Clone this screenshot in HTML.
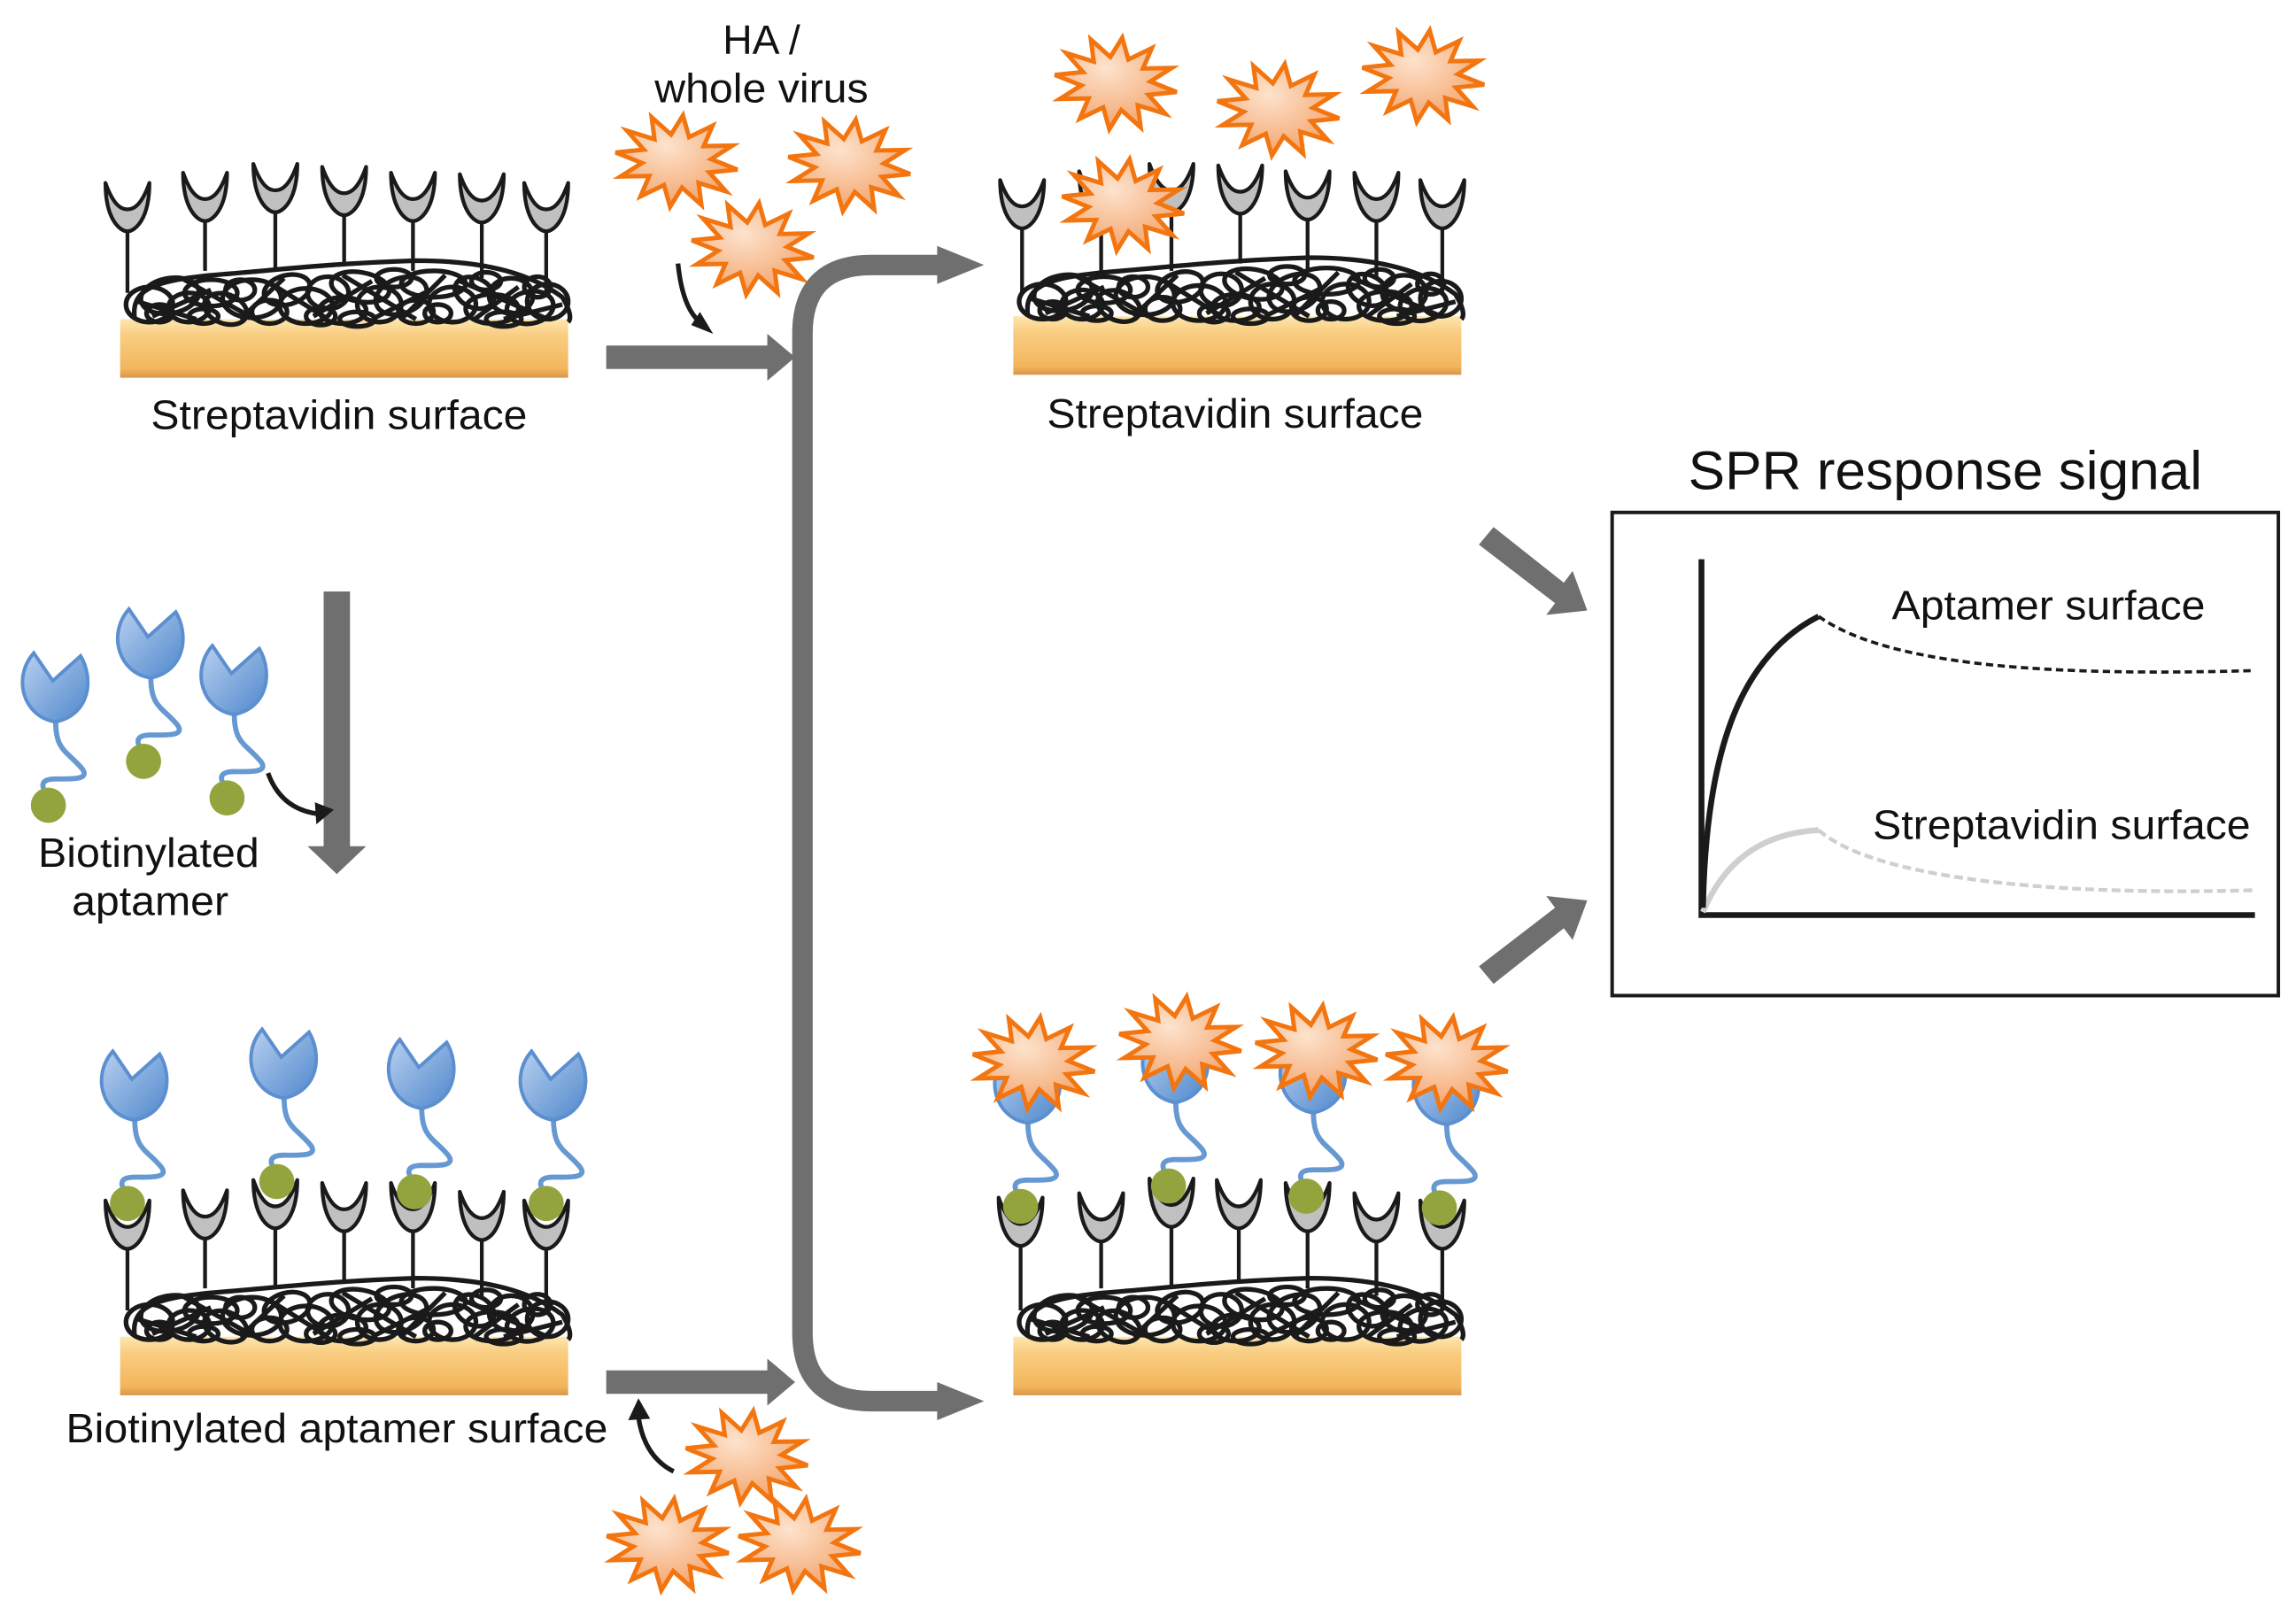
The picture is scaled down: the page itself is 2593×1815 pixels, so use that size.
<!DOCTYPE html>
<html><head><meta charset="utf-8"><style>
html,body{margin:0;padding:0;background:#fff;}
svg{display:block;}
text{font-family:"Liberation Sans",Arial,sans-serif;fill:#111;}
</style></head><body>
<svg width="2593" height="1815" viewBox="0 0 1568 1097.6" xmlns="http://www.w3.org/2000/svg">
<defs>
<linearGradient id="gold" x1="0" y1="0" x2="0" y2="1">
<stop offset="0" stop-color="#fde7b0"/><stop offset="0.25" stop-color="#f9cf84"/><stop offset="0.85" stop-color="#f3b55c"/><stop offset="1" stop-color="#d9954a"/>
</linearGradient>
<radialGradient id="starg" cx="0.4" cy="0.35" r="0.7">
<stop offset="0" stop-color="#fde3cd"/><stop offset="1" stop-color="#f3a066"/>
</radialGradient>
<linearGradient id="blue" x1="0" y1="0" x2="1" y2="1">
<stop offset="0" stop-color="#b8d0f0"/><stop offset="1" stop-color="#4f88cc"/>
</linearGradient>
<g id="star">
<path d="M42,0 L23.2,4.6 L36.4,15.8 L17,12.7 L21,27.3 L6.2,17.4 L0,31.5 L-6.2,17.4 L-21,27.3 L-17,12.7 L-36.4,15.8 L-23.2,4.6 L-42,0 L-23.2,-4.6 L-36.4,-15.8 L-17,-12.7 L-21,-27.3 L-6.2,-17.4 L0,-31.5 L6.2,-17.4 L21,-27.3 L17,-12.7 L36.4,-15.8 L23.2,-4.6 Z" fill="url(#starg)" stroke="#f27510" stroke-width="3" stroke-linejoin="miter" transform="rotate(8)"/>
</g>
<g id="cup">
<path d="M-15,0 C-15,25 -5,33 0,33 C5,33 15,25 15,0 C10,14 5,18 0,18 C-5,18 -10,14 -15,0 Z" fill="#c0c0c0" stroke="#1a1a1a" stroke-width="2.6" stroke-linejoin="round"/>
</g>
<g id="head">
<path d="M-15,-22 L-2,-3 L17,-20 C26,-5 24,20 0,25 C-22,22 -30,-5 -15,-22 Z" fill="url(#blue)" stroke="#5b8fcf" stroke-width="2.4" stroke-linejoin="miter"/>
</g>
<g id="tail">
<path d="M0,25 C0,45 8,45 18,57 C24,65 10,64 0,64 C-12,64 -10,70 -4,78" fill="none" stroke="#6698d2" stroke-width="3.5"/>
<circle cx="-5" cy="82" r="12" fill="#93a43f"/>
</g>
<g id="apt"><use href="#tail"/><use href="#head"/></g>
<g id="tangle" fill="none" stroke="#1a1a1a" stroke-width="3.2">
<path d="M8,40 C5,20 20,14 60,10 C110,6 140,2 200,0 C250,0 280,10 300,25 C306,35 306,40 304,42"/>
<ellipse cx="18" cy="30" rx="16" ry="12"/><ellipse cx="32" cy="24" rx="20" ry="12" transform="rotate(-10 32 24)"/>
<ellipse cx="45" cy="32" rx="14" ry="10"/><ellipse cx="60" cy="22" rx="18" ry="9"/>
<ellipse cx="70" cy="33" rx="15" ry="10" transform="rotate(20 70 33)"/><ellipse cx="88" cy="26" rx="20" ry="13"/>
<ellipse cx="100" cy="35" rx="12" ry="8"/><ellipse cx="112" cy="20" rx="16" ry="10" transform="rotate(-15 112 20)"/>
<ellipse cx="125" cy="31" rx="18" ry="12"/><ellipse cx="140" cy="22" rx="14" ry="11"/>
<ellipse cx="150" cy="34" rx="16" ry="9"/><ellipse cx="162" cy="18" rx="20" ry="10" transform="rotate(10 162 18)"/>
<ellipse cx="175" cy="30" rx="15" ry="12"/><ellipse cx="190" cy="24" rx="18" ry="12" transform="rotate(-20 190 24)"/>
<ellipse cx="200" cy="35" rx="12" ry="8"/><ellipse cx="212" cy="16" rx="22" ry="9"/>
<ellipse cx="225" cy="30" rx="16" ry="12"/><ellipse cx="240" cy="22" rx="14" ry="10" transform="rotate(25 240 22)"/>
<ellipse cx="252" cy="33" rx="18" ry="10"/><ellipse cx="265" cy="24" rx="15" ry="12"/>
<ellipse cx="278" cy="32" rx="16" ry="11" transform="rotate(-10 278 32)"/><ellipse cx="290" cy="28" rx="14" ry="12"/>
<ellipse cx="25" cy="36" rx="9" ry="6"/><ellipse cx="80" cy="20" rx="10" ry="7"/><ellipse cx="135" cy="38" rx="10" ry="6"/><ellipse cx="185" cy="12" rx="12" ry="6"/><ellipse cx="215" cy="36" rx="9" ry="6"/><ellipse cx="248" cy="14" rx="10" ry="6"/><ellipse cx="283" cy="18" rx="9" ry="7"/>
<path d="M20,38 L60,20 M80,40 L110,12 M130,38 L170,14 M190,40 L220,10 M240,40 L270,18 M40,12 L90,40 M150,10 L200,40 M230,14 L290,40 M10,28 L50,40 M100,15 L140,40 M170,40 L210,20 M260,40 L300,30"/>
<ellipse cx="55" cy="38" rx="10" ry="5"/><ellipse cx="160" cy="40" rx="12" ry="5"/><ellipse cx="260" cy="40" rx="12" ry="5"/>
</g>
<g id="surf">
<rect x="0" y="0" width="306" height="40" fill="url(#gold)"/>
<use href="#tangle" x="2" y="-40"/>
</g>
</defs>

<!-- TL surface -->
<g stroke="#1a1a1a" stroke-width="2.6">
<line x1="87" y1="155" x2="87" y2="200"/><line x1="140" y1="148" x2="140" y2="185"/><line x1="188" y1="142" x2="188" y2="185"/><line x1="235" y1="145" x2="235" y2="180"/><line x1="282" y1="148" x2="282" y2="185"/><line x1="329" y1="148" x2="329" y2="190"/><line x1="373" y1="157" x2="373" y2="200"/>
</g>
<use href="#surf" x="82" y="218"/>
<use href="#cup" x="87" y="125"/><use href="#cup" x="140" y="118"/><use href="#cup" x="188" y="112"/><use href="#cup" x="235" y="114"/><use href="#cup" x="282" y="118"/><use href="#cup" x="329" y="119"/><use href="#cup" x="373" y="125"/>
<text x="103" y="293" font-size="28" textLength="257" lengthAdjust="spacingAndGlyphs">Streptavidin surface</text>

<!-- TR surface -->
<g stroke="#1a1a1a" stroke-width="2.6">
<line x1="698" y1="155" x2="698" y2="200"/><line x1="752" y1="148" x2="752" y2="185"/><line x1="800" y1="142" x2="800" y2="185"/><line x1="847" y1="145" x2="847" y2="180"/><line x1="893" y1="148" x2="893" y2="185"/><line x1="940" y1="148" x2="940" y2="190"/><line x1="985" y1="157" x2="985" y2="200"/>
</g>
<use href="#surf" x="692" y="216"/>
<use href="#cup" x="698" y="123"/><use href="#cup" x="752" y="117"/><use href="#cup" x="800" y="112"/><use href="#cup" x="847" y="113"/><use href="#cup" x="893" y="117"/><use href="#cup" x="940" y="118"/><use href="#cup" x="985" y="123"/>
<text x="715" y="292" font-size="28" textLength="257" lengthAdjust="spacingAndGlyphs">Streptavidin surface</text>
<use href="#star" transform="translate(762,57)"/><use href="#star" transform="translate(873,75)"/><use href="#star" transform="translate(972,52)"/><use href="#star" transform="translate(767,140)"/>

<!-- free stars -->
<use href="#star" transform="translate(462,110)"/><use href="#star" transform="translate(580,113)"/><use href="#star" transform="translate(514,170)"/>
<use href="#star" transform="translate(510,995)"/><use href="#star" transform="translate(456,1055)"/><use href="#star" transform="translate(546,1055)"/>
<text x="520" y="37" font-size="28" text-anchor="middle">HA /</text>
<text x="447" y="70" font-size="28" textLength="146" lengthAdjust="spacingAndGlyphs">whole virus</text>

<!-- free aptamers -->
<use href="#apt" transform="translate(38,468)"/><use href="#apt" transform="translate(103,438)"/><use href="#apt" transform="translate(160,463)"/>
<text x="26" y="592" font-size="28" textLength="151" lengthAdjust="spacingAndGlyphs">Biotinylated</text>
<text x="49" y="625" font-size="28" textLength="107" lengthAdjust="spacingAndGlyphs">aptamer</text>

<!-- arrows -->
<g fill="#6f6f6f">
<rect x="221" y="404" width="18" height="176"/><polygon points="210,578 250,578 230,597"/>
<rect x="414" y="236" width="112" height="16"/><polygon points="524,228 543,244 524,260"/>
<rect x="414" y="936" width="112" height="16"/><polygon points="524,928 543,944 524,960"/>
<polygon points="640,168 672,181 640,194"/><polygon points="640,944 672,957 640,970"/>
<polygon points="1020,360 1010,372 1062,412 1056,420 1084,417 1074,390 1068,398"/>
<polygon points="1020,672 1010,660 1062,620 1056,612 1084,615 1074,642 1068,634"/>
</g>
<path d="M642,181 L595,181 Q548,181 548,228 L548,910 Q548,957 595,957 L642,957" fill="none" stroke="#6f6f6f" stroke-width="14"/>

<!-- small black curved arrows -->
<g fill="none" stroke="#1a1a1a" stroke-width="3.2">
<path d="M183,528 Q192,553 218,556"/><path d="M463,180 Q466,210 478,220"/><path d="M460,1005 Q440,995 436,968"/>
</g>
<g fill="#1a1a1a">
<polygon points="215,548 228,553 216,563"/><polygon points="472,222 487,228 478,213"/><polygon points="429,970 436,955 444,969"/>
</g>

<!-- BL surface -->
<g stroke="#1a1a1a" stroke-width="2.6">
<line x1="87" y1="850" x2="87" y2="895"/><line x1="140" y1="845" x2="140" y2="880"/><line x1="188" y1="838" x2="188" y2="880"/><line x1="235" y1="840" x2="235" y2="875"/><line x1="282" y1="840" x2="282" y2="880"/><line x1="329" y1="845" x2="329" y2="885"/><line x1="373" y1="852" x2="373" y2="895"/>
</g>
<use href="#surf" x="82" y="913"/>
<use href="#cup" x="87" y="820"/><use href="#cup" x="140" y="813"/><use href="#cup" x="188" y="806"/><use href="#cup" x="235" y="808"/><use href="#cup" x="282" y="808"/><use href="#cup" x="329" y="814"/><use href="#cup" x="373" y="820"/>
<use href="#apt" transform="translate(92,740)"/><use href="#apt" transform="translate(194,725)"/><use href="#apt" transform="translate(288,732)"/><use href="#apt" transform="translate(378,740)"/>
<text x="45" y="985" font-size="28" textLength="370" lengthAdjust="spacingAndGlyphs">Biotinylated aptamer surface</text>

<!-- BR surface -->
<g stroke="#1a1a1a" stroke-width="2.6">
<line x1="697" y1="850" x2="697" y2="895"/><line x1="752" y1="845" x2="752" y2="880"/><line x1="800" y1="838" x2="800" y2="880"/><line x1="846" y1="840" x2="846" y2="875"/><line x1="893" y1="842" x2="893" y2="880"/><line x1="940" y1="845" x2="940" y2="885"/><line x1="985" y1="850" x2="985" y2="895"/>
</g>
<use href="#surf" x="692" y="913"/>
<use href="#cup" x="697" y="818"/><use href="#cup" x="752" y="815"/><use href="#cup" x="800" y="805"/><use href="#cup" x="846" y="806"/><use href="#cup" x="893" y="808"/><use href="#cup" x="940" y="815"/><use href="#cup" x="985" y="820"/>
<use href="#apt" transform="translate(702,742)"/><use href="#apt" transform="translate(803,728)"/><use href="#apt" transform="translate(897,735)"/><use href="#apt" transform="translate(988,743)"/>
<use href="#star" transform="translate(706,726)"/><use href="#star" transform="translate(806,712)"/><use href="#star" transform="translate(899,718)"/><use href="#star" transform="translate(988,726)"/>

<!-- SPR -->
<text x="1153" y="334" font-size="37" textLength="351" lengthAdjust="spacingAndGlyphs">SPR response signal</text>
<rect x="1101" y="350" width="455" height="330" fill="none" stroke="#1a1a1a" stroke-width="2.4"/>
<path d="M1162,382 L1162,625 L1540,625" fill="none" stroke="#1a1a1a" stroke-width="4"/>
<path d="M1163,623 Q1185,570 1242,567" fill="none" stroke="#cfcfcf" stroke-width="4"/>
<path d="M1242,567 C1280,600 1400,612 1540,608" fill="none" stroke="#cfcfcf" stroke-width="2.6" stroke-dasharray="6,3"/>
<path d="M1163,620 C1165,520 1185,450 1242,421" fill="none" stroke="#1a1a1a" stroke-width="4"/>
<path d="M1242,421 C1290,455 1400,462 1540,458" fill="none" stroke="#1a1a1a" stroke-width="2.2" stroke-dasharray="5,3"/>
<text x="1292" y="423" font-size="28" textLength="214" lengthAdjust="spacingAndGlyphs">Aptamer surface</text>
<text x="1279" y="573" font-size="28" textLength="258" lengthAdjust="spacingAndGlyphs">Streptavidin surface</text>
</svg>
</body></html>
